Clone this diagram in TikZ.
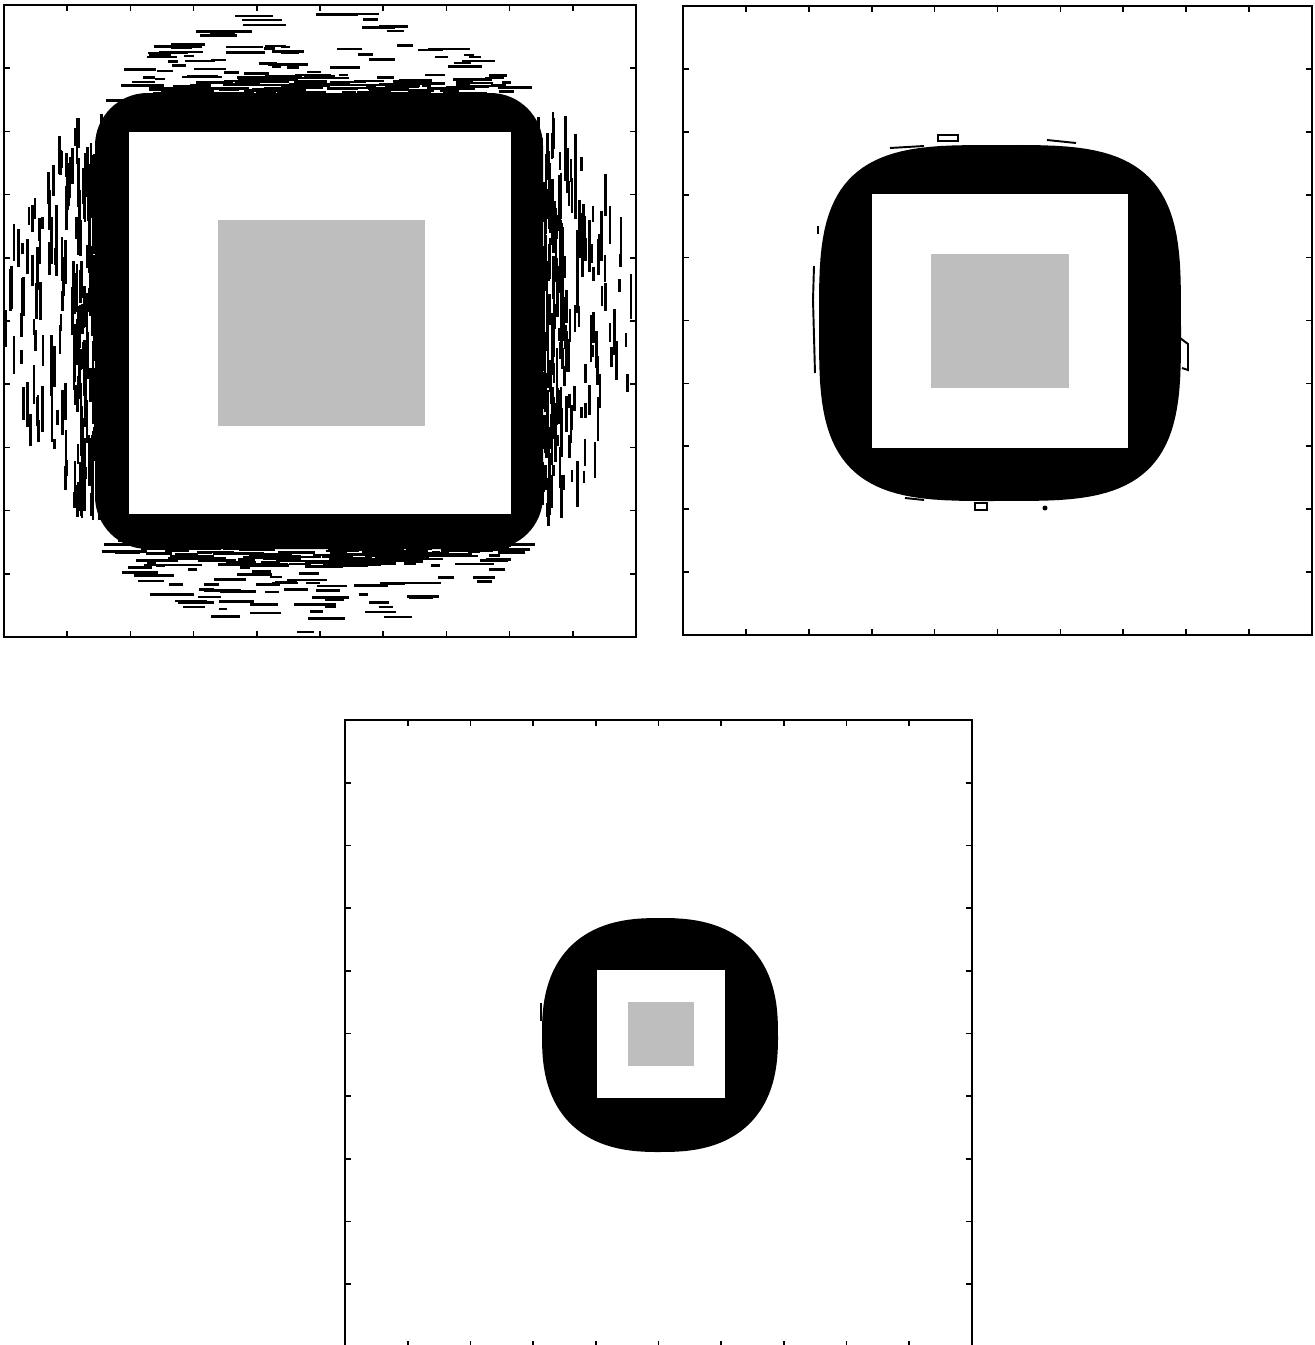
\documentclass[tikz,border=0pt]{standalone}
\usepackage{xcolor}
\definecolor{coregray}{HTML}{bebebe}
\usepackage{tikz}
\usetikzlibrary{calc}

\begin{document}
\begin{tikzpicture}[x=0.01cm, y=-0.01cm,
  frame/.style={draw=black, line width=0.6pt},
  tick/.style={draw=black, line width=0.5pt},
  blob/.style={fill=black},
  streak/.style={fill=black},
  hole/.style={fill=white},
  core/.style={fill=coregray},
  artefact/.style={draw=black, line width=0.55pt}
]
\useasboundingbox (0,0) rectangle (1314,1345);
\clip (0,0) rectangle (1314,1345);
\pgfmathsetseed{4217}

% panel 1: scattered streaks round the blob
\begin{scope}
\clip (4,5) rectangle (636,637);
% above and below
\foreach \sgn in {-1,1}{
  \foreach \n/\sp/\wd in {140/0.3/160, 120/1/200}{
    \foreach \k in {1,...,\n}{
      \pgfmathsetmacro{\ox}{rand*\wd}
      \pgfmathsetmacro{\envr}{314*sqrt(max(0,1-(\ox/300)^2))}
      \pgfmathsetmacro{\oy}{218+max(0,\envr-218)*\sp*rnd}
      \pgfmathsetmacro{\slen}{8+36*rnd}
      \pgfmathsetmacro{\px}{318+\ox-\slen/2}
      \pgfmathsetmacro{\py}{320+\sgn*\oy}
      \fill[streak] (\px,\py) rectangle ++(\slen,2.6);
    }
  }
}
% left and right
\foreach \sgn in {-1,1}{
  \foreach \n/\sp/\wd in {130/0.3/160, 120/1/190}{
    \foreach \k in {1,...,\n}{
      \pgfmathsetmacro{\oy}{rand*\wd}
      \pgfmathsetmacro{\envr}{318*sqrt(max(0,1-(\oy/290)^2))}
      \pgfmathsetmacro{\ox}{218+max(0,\envr-218)*\sp*rnd}
      \pgfmathsetmacro{\slen}{10+40*rnd}
      \pgfmathsetmacro{\px}{318+\sgn*\ox}
      \pgfmathsetmacro{\py}{320+\oy-\slen/2}
      \fill[streak] (\px,\py) rectangle ++(2.6,\slen);
    }
  }
}
\end{scope}

% panel 1: blob and squares
\fill[blob, rounded corners=15pt] (95,93) rectangle (543,549);
\fill[hole] (129,132) rectangle (511,514);
\fill[core] (218,220) rectangle (425,426);

% panel 2: blob, squares and loose edges
\fill[blob] plot[domain=1:361, samples=121]
  ({1000+181*sign(cos(\x))*pow(abs(cos(\x)),0.571)},
   {323+178*sign(sin(\x))*pow(abs(sin(\x)),0.571)}) -- cycle;
\draw[artefact] (818,226) -- (818,234);
\draw[artefact] (814,266) -- (813,300) -- (815,373);
\draw[artefact] (823,346) -- (825,380);
\draw[artefact] (1180,338) -- (1188,344) -- (1188,370) -- (1182,368);
\draw[artefact] (938,135) rectangle (958,141);
\draw[artefact] (890,148) -- (924,146);
\draw[artefact] (1047,140) -- (1076,143);
\draw[artefact] (905,498) -- (924,500);
\draw[artefact] (975,503) rectangle (987,510);
\fill[blob] (1045,508) circle (2.5);
\fill[hole] (872,194) rectangle (1128,448);
\fill[core] (931,254) rectangle (1069,388);

% panel 3: blob and squares
\fill[blob] plot[domain=1:361, samples=121]
  ({660+118*sign(cos(\x))*pow(abs(cos(\x)),0.8)},
   {1035+117*sign(sin(\x))*pow(abs(sin(\x)),0.8)}) -- cycle;
\draw[artefact] (541,1003) -- (541,1021);
\fill[hole] (597,970) rectangle (725,1098);
\fill[core] (628,1002) rectangle (694,1066);

% frames with ticks
\foreach \fx/\fy/\fs in {4/5/632, 683/6/629, 345/720/627}{
  \draw[frame] (\fx,\fy) rectangle ++(\fs,\fs);
  \foreach \t in {1,...,9}{
    \draw[tick] (\fx+\t*\fs/10,\fy) -- ++(0,6);
    \draw[tick] (\fx+\t*\fs/10,\fy+\fs) -- ++(0,-6);
    \draw[tick] (\fx,\fy+\t*\fs/10) -- ++(6,0);
    \draw[tick] (\fx+\fs,\fy+\t*\fs/10) -- ++(-6,0);
  }
}
\end{tikzpicture}
\end{document}
